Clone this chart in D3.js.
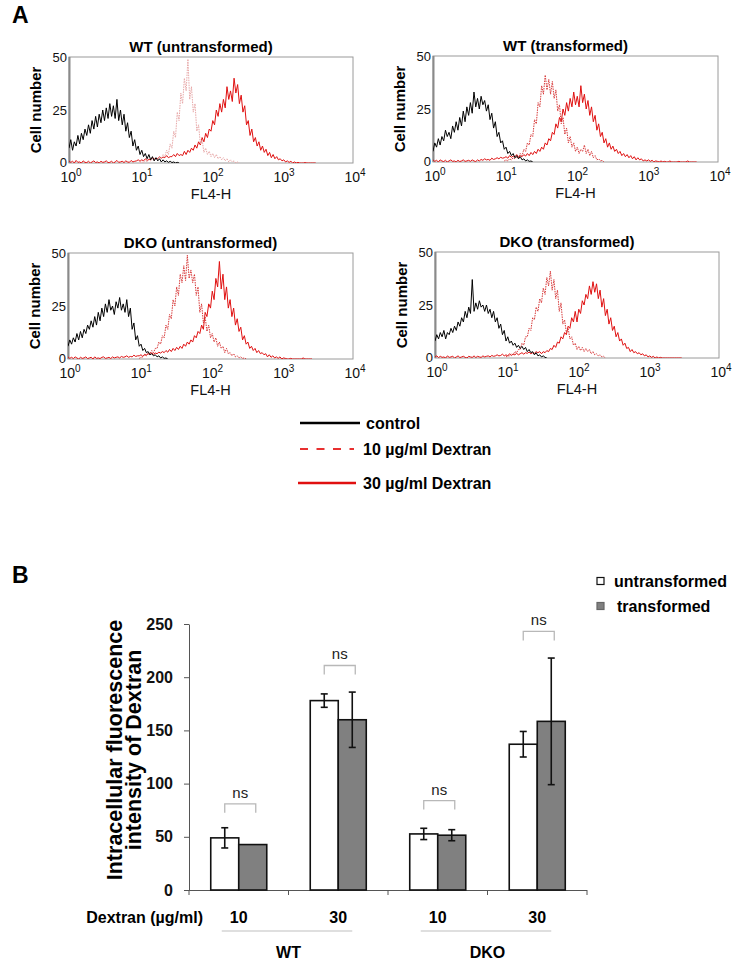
<!DOCTYPE html>
<html><head><meta charset="utf-8">
<script src="https://cdn.jsdelivr.net/npm/d3@7"></script>
<style>
body{margin:0;background:#fff}
svg{display:block}
text{font-family:Arial,"Liberation Sans",Helvetica,sans-serif}
</style>
</head><body>
<svg id="c" width="735" height="961"></svg>
<script>
// ---------------- DATA ----------------
const panelTitles = ["WT (untransformed)", "WT (transformed)", "DKO (untransformed)", "DKO (transformed)"];
const histStep = 0.025;         // decades per sample
const ctrlStart = 0;            // log10 of first sample
const d10Start = 1.0;
const d30Start = 0;
const histYTicks = [0, 25, 50];
const histXExps = [0, 1, 2, 3, 4];

const ctrlCurves = [
  [7,11,6,10,8,13,9,14,11,16,13,18,14,20,16,22,17,23,19,25,20,26,21,28,22,27,21,30,20,25,18,23,15,19,12,15,8,11,6,8,4,6,3,4.5,2,4,1.5,3,1,2.5,1,2,0.5,1.5,0.5,1,0.3,0.8,0.2,0.5,0,0.3,0],
  [5,9,7,11,8,12,10,15,12,14,11,17,14,19,15,21,17,24,19,26,22,28,23,33,26,30,25,31,27,29,24,27,20,23,16,19,12,14,9,10,6,7,4,5,3,4,2,3,1.5,2.5,1,1.5,0.5,1,0.3,0.5,0],
  [6,9,7,10,8,12,9,13,10,14,12,16,14,18,15,20,16,22,18,24,20,26,22,28,23,25,21,27,24,29,23,26,22,28,20,24,14,17,9,11,6,7,4,5,3,3.5,2,2.5,1.5,2,1,1.5,0.5,1,0.3,0.5,0],
  [8,11,9,12,10,13,9,12,11,14,12,15,13,17,15,19,17,22,19,24,21,37,22,26,23,27,24,25,22,25,21,23,19,22,17,19,14,16,11,13,8,10,7,8,6,7,5,6,4.5,5.5,4,5,3,4,2.5,3,1.5,2.5,1,1.5,0.5,1,0.3,0]
];
const d10Curves = [
  [0,0.5,0.2,1,0.5,1.5,1,2,1,2.5,1.5,3,2,4,3,6,4,9,7,15,12,24,20,33,28,40,34,49,30,36,24,28,15,18,9,11,5,7,4,5.5,3,4.5,2.5,4,2,3,1.5,2.5,1,2,0.5,1.5,0.5,1,0,0.5,0],
  [0.5,1,0.5,1.5,1,2,1.5,2.5,2,4,3,6,5,9,8,13,12,20,18,28,26,36,32,41,34,39,32,38,30,34,24,27,18,21,13,16,9,12,7,9,5,7,4,6,5,8,4,6,3,5,2,3,1,1.5,0.5,0.8,0],
  [0.3,0.8,1,2,1.5,3,2.5,4,3,5,5,8,7,11,10,16,14,21,19,28,25,34,30,40,36,44,37,49,38,42,36,40,30,34,22,26,17,20,13,16,10,12,8,10,6,8,5,6,3,5,2.5,3,1.5,2.5,1,1.5,0.5,1,0.3,0.5,0],
  [0.5,1,1,2,1.5,3,2.5,4,4,7,6,10,10,14,13,19,18,24,22,28,26,33,30,38,34,41,32,37,28,32,22,26,16,18,12,14,9,10,6,7,4,5.5,3.5,5,3,4.5,3,4,2,3,1.5,2,1,1.5,0.5,0.8,0]
];
const d30Curves = [
  [1,0.3,0.8,0,1.2,0.3,0.5,0,1,0.3,0.2,0.8,0,0.5,1,0.2,0.5,0,0.8,0.3,
   0.5,1,0.2,0.3,0.8,0,0.5,1.2,0.3,0.5,0.8,0.2,1,0.5,0.3,1.2,0.5,0.8,1,1.5,
   0.8,1.5,1,2,1.2,1.8,1.5,2.5,1.8,2.2,2,3,2.2,2.8,2.5,3.5,2.5,3,3,4,
   3,4.5,3.5,4,3.5,5.5,4,6,5,7,6,8.5,7,10,8.5,12,10,14,12,16,
   15,20,18,25,22,28,24,30,26,36,30,34,29,40,33,37,28,32,24,27,
   18,20,13,16,10,12,8,10,6,8,5,6.5,3.5,5,2.5,4,2,3,1.5,2,
   1,1.5,0.5,1,0.3,0.8,0,0.5,0,0.3,0,0,0,0.2,0,0,0,0,0,0],
  [1,0.3,0.8,0,1,0.5,0.2,0.8,0,0.5,1,0.3,0.5,0,0.8,0.2,0.5,1,0.3,0.5,
   0.8,0.3,1,0.5,0.2,1,0.5,1.2,0.8,1.5,1,1.2,0.8,1.8,1.2,1.5,2,1.5,2.2,1.8,
   2,2.5,1.8,3,2.2,2.8,2.5,3.5,2.2,3,2.5,3.5,2.8,4,3,4.5,3.5,5,4,6,
   5,7,6,9,8,11,10,14,13,18,16,21,19,25,22,28,24,30,26,33,
   27,31,26,36,28,32,25,29,22,26,19,22,15,18,12,14,9,11,7,9,
   6,7.5,5,6,4,5,3,4,2.5,3.5,2,3,1.5,2.5,1,2,1,1.5,0.5,1,
   0.5,1,0.3,0.8,0,0.5,0.3,0,0.5,0,0.3,0,0,0.5,0,0,0,0,0.3,0,
   0,0,0,0.5,0,0,0,0,0],
  [1,0.3,0.8,0.2,1,0.5,0,0.8,0.3,0.5,1,0.2,0.5,0.8,0,1,0.3,0.5,0.2,0.8,
   1,0.3,0.5,0.8,0.2,1,0.5,0.8,1,0.5,1.2,0.8,1,1.5,0.8,1.2,1,1.8,1.2,1.5,
   1.5,2,1.2,2.2,1.8,2.5,2,3,2.2,2.8,2.5,3.2,2.8,3.5,3,4,3.2,4.5,3.5,5,
   4,5.5,4.5,6,5,7,6,8,7,9,8,11,10,13,12,16,14,22,20,26,
   24,32,28,38,34,46,33,40,28,34,24,28,20,24,16,19,13,15,
   9,11,7,8,5,6,4,5,3,4,2.5,3,2,2.5,1,2,0.8,1.5,0.5,1,
   0.3,1,0,0.5,0.3,0,0,0.3,0,0,0,0,0,0,0.5,0,0,0,0,0],
  [0.5,1,0.2,0.8,0.3,0.5,0,1,0.3,0.5,0.8,0,0.5,1,0.2,0.5,0.8,0.3,0,0.8,
   0.5,0.3,1,0.2,0.8,0.5,0.3,1,0.5,0.8,1,0.5,1.2,0.8,1,1.5,1,1.2,1.8,1,
   1.5,1,2,1.2,1.8,1.5,2.2,1.5,2,2.5,1.8,2.5,2.2,2.8,2,2.5,2.2,3,2.5,3,
   2,3,2.5,3.5,3,4.5,4,6,5,7.5,7,10,9,12,11,15,14,19,17,22,
   17,23,21,27,25,30,28,34,30,36,31,35,28,32,24,28,20,23,16,19,
   13,15,10,12,8,9,6,7,4.5,5,3,4,2.5,3,2,2.5,1.5,2,1,1.5,
   0.5,1,0.3,0.8,0,0.5,0,0.3,0,0,0,0,0,0,0,0,0,0,0,0]
];

const legendALabels = ["control", "10 µg/ml Dextran", "30 µg/ml Dextran"];

// Bar chart (B)
const barGroups = ["WT", "DKO"];
const barDoses = ["10", "30", "10", "30"];
const barSeries = ["untransformed", "transformed"];
const untransVals = [49, 178, 52.7, 137];
const untransErr  = [9.5, 6.3, 5.3, 12];
const transVals   = [42.7, 160, 51.5, 158.5];
const transErr    = [0.3, 26, 5.2, 59.5];
const nsLevels    = [81, 211, 84, 243];
const barYTicks   = [0, 50, 100, 150, 200, 250];

// ---------------- DRAW ----------------
const svg = d3.select("#c");
const F = 'Arial,"Liberation Sans",Helvetica,sans-serif';

svg.append("text").attr("x", 12).attr("y", 23).attr("font-size", 23).attr("font-weight", "bold").text("A");

const panelBoxes = [
  {x0: 69, x1: 353, y0: 57, y1: 163},
  {x0: 433, x1: 718, y0: 56, y1: 162},
  {x0: 68, x1: 353, y0: 253, y1: 359},
  {x0: 435, x1: 719, y0: 252, y1: 358}
];
const d10Colors = ["#e8a8a8", "#d83a3a", "#d83a3a", "#d83a3a"];

const toPts = (vals, start) => vals.map((v, i) => [Math.pow(10, start + i * histStep), v]);

panelBoxes.forEach((b, k) => {
  const x = d3.scaleLog().domain([1, 1e4]).range([b.x0, b.x1]);
  const y = d3.scaleLinear().domain([0, 50]).range([b.y1, b.y0]);
  const g = svg.append("g");
  const cid = "clip" + k;
  g.append("clipPath").attr("id", cid).append("rect")
    .attr("x", b.x0).attr("y", b.y0 - 2).attr("width", b.x1 - b.x0).attr("height", b.y1 - b.y0 + 2);

  // frame
  g.append("rect").attr("x", b.x0).attr("y", b.y0).attr("width", b.x1 - b.x0).attr("height", b.y1 - b.y0)
    .attr("fill", "none").attr("stroke", "#9a9a9a").attr("stroke-width", 1);
  g.append("line").attr("x1", b.x0 + 0.5).attr("x2", b.x0 + 0.5).attr("y1", b.y0).attr("y2", b.y1)
    .attr("stroke", "#8a8a8a").attr("stroke-width", 2);

  const line = d3.line().x(d => x(d[0])).y(d => y(d[1]));
  const cg = g.append("g").attr("clip-path", `url(#${cid})`);
  cg.append("path").attr("d", line(toPts(d30Curves[k], d30Start)))
    .attr("fill", "none").attr("stroke", "#e01010").attr("stroke-width", 1);
  cg.append("path").attr("d", line(toPts(d10Curves[k], d10Start)))
    .attr("fill", "none").attr("stroke", d10Colors[k]).attr("stroke-width", 1).attr("stroke-dasharray", "1.5,1");
  cg.append("path").attr("d", line(toPts(ctrlCurves[k], ctrlStart)))
    .attr("fill", "none").attr("stroke", "#000").attr("stroke-width", 1);

  // y tick labels
  histYTicks.forEach(t => {
    g.append("text").attr("x", b.x0 - 2).attr("y", y(t)).attr("dy", t === 0 ? "0.3em" : "0.35em")
      .attr("text-anchor", "end").attr("font-size", 13).attr("fill", "#111").text(t);
  });
  // x tick labels 10^n
  histXExps.forEach(e => {
    const t = g.append("text").attr("x", x(Math.pow(10, e)) + 2).attr("y", b.y1 + 18.5)
      .attr("text-anchor", "middle").attr("font-size", 14).attr("fill", "#111");
    t.append("tspan").text("10");
    t.append("tspan").attr("dy", -6).attr("font-size", 10).text(e);
  });
  g.append("text").attr("x", x(100)).attr("y", b.y1 + 36).attr("text-anchor", "middle")
    .attr("font-size", 14.5).attr("fill", "#111").text("FL4-H");
  g.append("text").attr("transform", `translate(${b.x0 - 28},${(b.y0 + b.y1) / 2}) rotate(-90)`)
    .attr("text-anchor", "middle").attr("font-size", 15).attr("font-weight", "bold").text("Cell number");
  g.append("text").attr("x", (b.x0 + b.x1) / 2 - 10).attr("y", b.y0 - 5).attr("text-anchor", "middle")
    .attr("font-size", 15).attr("font-weight", "bold").text(panelTitles[k]);
});

// Legend A
const lgA = svg.append("g");
const lgAys = [423, 449, 483];
lgA.append("line").attr("x1", 300).attr("x2", 360).attr("y1", lgAys[0]).attr("y2", lgAys[0]).attr("stroke", "#000").attr("stroke-width", 2.5);
lgA.append("line").attr("x1", 300).attr("x2", 354).attr("y1", lgAys[1]).attr("y2", lgAys[1]).attr("stroke", "#e83030").attr("stroke-width", 2.2).attr("stroke-dasharray", "8,8.5");
lgA.append("line").attr("x1", 298).attr("x2", 356).attr("y1", lgAys[2]).attr("y2", lgAys[2]).attr("stroke", "#e01010").attr("stroke-width", 2.5);
[366, 363, 363].forEach((lx, i) => {
  lgA.append("text").attr("x", lx).attr("y", lgAys[i] + 5.5).attr("font-size", 16).attr("font-weight", "bold").text(legendALabels[i]);
});

// ---------------- B ----------------
svg.append("text").attr("x", 12).attr("y", 583).attr("font-size", 23).attr("font-weight", "bold").text("B");

const by = d3.scaleLinear().domain([0, 250]).range([890, 624]);
const bx = d3.scaleBand().domain(d3.range(4)).range([189, 587]).paddingInner(0.437).paddingOuter(0.2185);
const bs = d3.scaleBand().domain(barSeries).range([0, bx.bandwidth()]);
const gB = svg.append("g");

// y axis
const yAx = gB.append("g").attr("transform", "translate(189,0)")
  .call(d3.axisLeft(by).tickValues(barYTicks).tickSize(5).tickSizeOuter(0).tickPadding(11));
yAx.select(".domain").attr("stroke", "#555");
yAx.selectAll(".tick line").attr("stroke", "#555");
yAx.selectAll("text").attr("font-size", 16).attr("font-weight", "bold").attr("fill", "#111").attr("font-family", F);

// x axis line + boundary ticks
gB.append("line").attr("x1", 189).attr("x2", 587).attr("y1", 890.5).attr("y2", 890.5).attr("stroke", "#555");
d3.range(5).forEach(i => {
  const xx = 189 + i * bx.step();
  gB.append("line").attr("x1", xx).attr("x2", xx).attr("y1", 890).attr("y2", 895).attr("stroke", "#555");
});

const barData = [];
d3.range(4).forEach(i => {
  barData.push({i, s: "untransformed", v: untransVals[i], e: untransErr[i]});
  barData.push({i, s: "transformed", v: transVals[i], e: transErr[i]});
});
gB.selectAll("rect.bar").data(barData).enter().append("rect").attr("class", "bar")
  .attr("x", d => bx(d.i) + bs(d.s)).attr("width", bs.bandwidth())
  .attr("y", d => by(d.v)).attr("height", d => by(0) - by(d.v))
  .attr("fill", d => d.s === "untransformed" ? "#fff" : "#808080")
  .attr("stroke", "#111").attr("stroke-width", 1.6);

// error bars
barData.forEach(d => {
  const cx = bx(d.i) + bs(d.s) + bs.bandwidth() / 2;
  if (d.e > 1) {
    gB.append("line").attr("x1", cx).attr("x2", cx).attr("y1", by(d.v + d.e)).attr("y2", by(d.v - d.e)).attr("stroke", "#111").attr("stroke-width", 1.6);
    [d.v + d.e, d.v - d.e].forEach(v => gB.append("line").attr("x1", cx - 3.5).attr("x2", cx + 3.5).attr("y1", by(v)).attr("y2", by(v)).attr("stroke", "#111").attr("stroke-width", 1.6));
  }
});

// ns brackets
d3.range(4).forEach(i => {
  const xa = bx(i) + bs("untransformed") + bs.bandwidth() / 2;
  const xb = bx(i) + bs("transformed") + bs.bandwidth() / 2 + 3;
  const yy = by(nsLevels[i]);
  gB.append("path").attr("d", `M${xa},${yy + 9}V${yy}H${xb}V${yy + 9}`)
    .attr("fill", "none").attr("stroke", "#b8b8b8").attr("stroke-width", 1.3);
  gB.append("text").attr("x", (xa + xb) / 2).attr("y", yy - 6).attr("text-anchor", "middle")
    .attr("font-size", 15).attr("fill", "#222").text("ns");
});

// y title
const yt = gB.append("text").attr("transform", "translate(122,750) rotate(-90)").attr("text-anchor", "middle")
  .attr("font-size", 21.5).attr("font-weight", "bold");
yt.append("tspan").attr("x", 0).attr("dy", 0).text("Intracellular fluorescence");
yt.append("tspan").attr("x", 0).attr("dy", 19).text("intensity of Dextran");

// x labels
gB.append("text").attr("x", 203).attr("y", 923).attr("text-anchor", "end").attr("font-size", 16).attr("font-weight", "bold").text("Dextran (µg/ml)");
d3.range(4).forEach(i => {
  gB.append("text").attr("x", bx(i) + bx.bandwidth() / 2).attr("y", 923).attr("text-anchor", "middle")
    .attr("font-size", 16).attr("font-weight", "bold").text(barDoses[i]);
});
barGroups.forEach((gname, j) => {
  const xa = bx(2 * j) + bs("untransformed") + bs.bandwidth() / 2 - 3;
  const xb = bx(2 * j + 1) + bs("transformed") + bs.bandwidth() / 2;
  gB.append("line").attr("x1", xa).attr("x2", xb).attr("y1", 931).attr("y2", 931).attr("stroke", "#c0c0c0").attr("stroke-width", 1.2);
  gB.append("text").attr("x", 189 + (2 * j + 1) * bx.step()).attr("y", 958).attr("text-anchor", "middle")
    .attr("font-size", 16).attr("font-weight", "bold").text(gname);
});

// legend B
const lgB = svg.append("g");
[[581, 614], [606, 617]].forEach(([ly, tx], i) => {
  lgB.append("rect").attr("x", 597).attr("y", ly - 3.5).attr("width", 7).attr("height", 7)
    .attr("fill", i === 0 ? "#fff" : "#808080").attr("stroke", i === 0 ? "#111" : "#666").attr("stroke-width", 1.2);
  lgB.append("text").attr("x", tx).attr("y", ly + 5.5).attr("font-size", 16).attr("font-weight", "bold").text(barSeries[i]);
});
</script>
</body></html>
